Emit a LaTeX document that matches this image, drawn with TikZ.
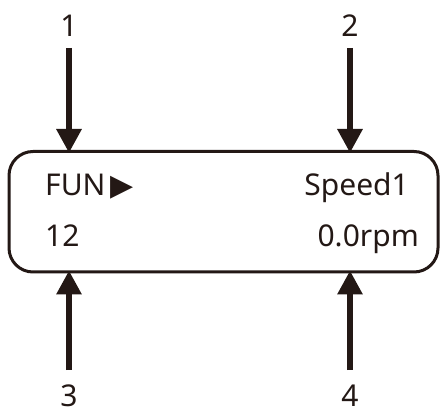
\documentclass[tikz,border=0pt]{standalone}
\usepackage{fontspec}
\setmainfont{Noto Sans}
\newfontfamily\trifont{DejaVu Sans}
\usepackage{xcolor}
\usetikzlibrary{arrows.meta,positioning}
\definecolor{ink}{HTML}{231815}

\begin{document}
\begin{tikzpicture}[x=1pt,y=1pt,color=ink,
	pfeil/.style={line width=6pt,-{Triangle[width=24pt,length=24pt]},shorten >=-3pt},
	txt/.style={inner sep=0pt,font=\fontsize{30}{36}\selectfont}]
	\useasboundingbox (0,0) rectangle (442,410);
	\node[draw,line width=3pt,rounded corners=24pt,minimum width=429pt,minimum height=120.5pt] (display) at (223.5,198.25) {};
	\node[txt,anchor=base west] (fun) at (45,214) {FUN\hspace{5pt}{\trifont\fontsize{30}{36}\selectfont ▶}};
	\node[txt,anchor=base east] (speed) at (409,214) {Speed1};
	\node[txt,anchor=base west] (num) at (45,163) {12};
	\node[txt,anchor=base east] (rpm) at (419,163) {0.0rpm};

	\node[txt,anchor=base] (n1) at (69,373) {1};
	\node[txt,anchor=base] (n2) at (350,373) {2};
	\node[txt,anchor=base] (n3) at (69,3.5) {3};
	\node[txt,anchor=base] (n4) at (350,3.5) {4};
	\coordinate (t1) at (69,362);
	\coordinate (t2) at (350,362);
	\coordinate (t3) at (69,40);
	\coordinate (t4) at (350,40);

	\draw[pfeil] (t1) -- (t1 |- display.north);
	\draw[pfeil] (t2) -- (t2 |- display.north);
	\draw[pfeil] (t3) -- (t3 |- display.south);
	\draw[pfeil] (t4) -- (t4 |- display.south);
\end{tikzpicture}
\end{document}
